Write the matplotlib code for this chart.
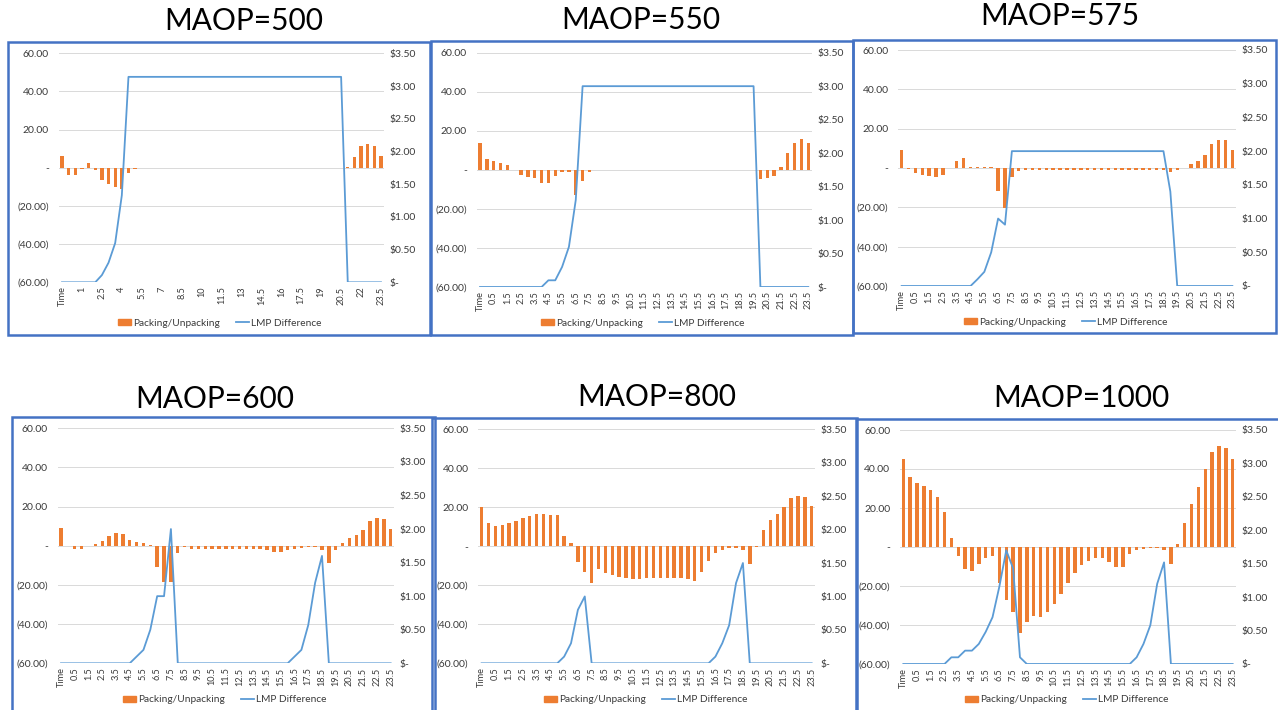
import matplotlib
matplotlib.use("Agg")
import matplotlib.pyplot as plt
from matplotlib.patches import Rectangle, Patch
from matplotlib.lines import Line2D
from matplotlib.ticker import FuncFormatter

plt.rcParams['font.family'] = ['Lato', 'DejaVu Sans']

# category labels: "Time" then every half hour
hours = ["Time"] + [f"{h / 2:g}" for h in range(48)]

# packing / unpacking bars (left axis) and LMP difference line (right axis, $)
pack_500 = [6, -3.7, -4, -0.5, 2.5, -1, -6.3, -8.4, -9.8, -11, -2.8, -0.5,
            -0.2, -0.2, -0.3, -0.3, -0.3, -0.3, -0.3, -0.3, -0.3, -0.3, -0.3, -0.3, -0.3, -0.3, -0.3, -0.3,
            0, 0, 0, 0, 0, 0, 0, 0, 0, 0, 0, 0, 0, 0, 0,
            0.3, 5.4, 11.5, 12.4, 11.2, 6]
lmp_500 = [0, 0, 0, 0, 0, 0, 0.11, 0.3, 0.6, 1.33,
           3.14, 3.14, 3.14, 3.14, 3.14, 3.14, 3.14, 3.14, 3.14, 3.14, 3.14, 3.14, 3.14, 3.14, 3.14, 3.14, 3.14,
           3.14, 3.14, 3.14, 3.14, 3.14, 3.14, 3.14, 3.14, 3.14, 3.14, 3.14, 3.14, 3.14, 3.14, 3.14, 3.14,
           0, 0, 0, 0, 0, 0]

pack_550 = [13.5, 5.5, 4.3, 3.5, 2.3, -0.3, -2.6, -3.7, -4, -6.6, -6.7, -3, -1.3, -1.1, -13, -5.7, -1.1,
            -0.3, -0.3, -0.3, -0.3, -0.3, -0.3, -0.3, -0.3, -0.3, -0.3, -0.3, -0.3,
            -0.3, -0.3, -0.3, -0.3, -0.3, -0.3, -0.3, -0.3, -0.3, -0.3, -0.3, -0.3,
            -4.7, -4, -3.3, 1.6, 8.8, 14, 16, 13.5]
lmp_550 = [0, 0, 0, 0, 0, 0, 0, 0, 0, 0, 0.1, 0.1, 0.3, 0.6, 1.3,
           3, 3, 3, 3, 3, 3, 3, 3, 3, 3, 3, 3, 3, 3, 3, 3, 3, 3, 3, 3, 3, 3, 3, 3, 3, 3,
           0, 0, 0, 0, 0, 0, 0, 0]

pack_575 = [9.2, -0.3, -2.4, -3.6, -3.9, -4.4, -3.6, 0, 3.6, 4.9, 0.7, 0.5, 0.7, 0.3, -11.5, -20.2, -4.4, -1.5,
            -0.8, -0.8, -0.8, -0.8, -0.8, -0.8, -0.8, -0.8, -0.8, -0.8,
            -0.8, -0.8, -0.8, -0.8, -0.8, -0.8, -0.8, -0.8, -0.8,
            -1, -1.2, -2, -1, 0, 1.9, 3.4, 6.4, 12.4, 14.2, 14, 9.2]
lmp_575 = [0, 0, 0, 0, 0, 0, 0, 0, 0, 0, 0, 0.1, 0.21, 0.5, 1.0, 0.91,
           2, 2, 2, 2, 2, 2, 2, 2, 2, 2, 2, 2, 2, 2, 2, 2, 2, 2, 2, 2, 2, 2, 2,
           1.4, 0, 0, 0, 0, 0, 0, 0, 0, 0]

pack_600 = [8.9, 0, -1.5, -1.5, -0.3, 1, 2.7, 4.8, 6.4, 6.2, 2.9, 1.8, 1.5, 0.5, -10.6, -18.5, -18.5, -3.6, -0.8,
            -1.5, -1.5, -1.5, -1.5, -1.5, -1.5, -1.5, -1.5, -1.5, -1.5, -1.5,
            -2, -3, -3, -2, -1.5, -1.2, -0.8, -0.5, -2, -8.8, -2, 1.5, 3.8, 5.5, 8, 12.6, 14, 13.5, 8.8]
lmp_600 = [0, 0, 0, 0, 0, 0, 0, 0, 0, 0, 0, 0.1, 0.2, 0.5, 1.0, 1.0, 2.0,
           0, 0, 0, 0, 0, 0, 0, 0, 0, 0, 0, 0, 0, 0, 0, 0, 0,
           0.1, 0.2, 0.57, 1.2, 1.6, 0, 0, 0, 0, 0, 0, 0, 0, 0, 0]

pack_800 = [20.3, 12.1, 10.4, 10.9, 11.8, 13, 14.4, 15.7, 16.6, 16.4, 16.1, 15.9, 5.3, 1.9,
            -8.2, -13.3, -18.6, -11.8, -13.5, -14.7, -15.7, -16.4, -16.8, -16.8, -16.4, -16.4,
            -16.1, -16.1, -16.4, -16.4, -16.9, -17.8, -13, -7.4, -3.4, -1.9, -1, -0.7, -2, -8.9, -0.2,
            8.4, 13.5, 16.6, 20, 25, 26, 25.1, 20.5]
lmp_800 = [0, 0, 0, 0, 0, 0, 0, 0, 0, 0, 0, 0, 0.1, 0.3, 0.8, 1.0,
           0, 0, 0, 0, 0, 0, 0, 0, 0, 0, 0, 0, 0, 0, 0, 0, 0, 0,
           0.1, 0.3, 0.57, 1.2, 1.5, 0, 0, 0, 0, 0, 0, 0, 0, 0, 0]

pack_1000 = [45.1, 35.7, 32.6, 31.3, 29, 25.8, 18.1, 4.8, -4.6, -11.3, -12.3, -8.7, -5.8, -4.4,
             -18.3, -27.4, -33.2, -43.9, -38.3, -35.4, -35.7, -33.5, -29.2, -24.1, -18.6, -13.2,
             -9.2, -7, -5.8, -5.8, -7.5, -10.1, -10.1, -3.8, -1.7, -0.9, -0.3, -0.3, -1.7, -8.5,
             1.7, 12.5, 21.9, 30.8, 40, 48.9, 51.6, 50.8, 45.1]
lmp_1000 = [0, 0, 0, 0, 0, 0, 0, 0.1, 0.1, 0.2, 0.2, 0.3, 0.48, 0.7, 1.16, 1.7, 1.43, 0.1,
            0, 0, 0, 0, 0, 0, 0, 0, 0, 0, 0, 0, 0, 0, 0, 0,
            0.1, 0.3, 0.58, 1.2, 1.52, 0, 0, 0, 0, 0, 0, 0, 0, 0, 0]

titles = ["MAOP=500", "MAOP=550", "MAOP=575", "MAOP=600", "MAOP=800", "MAOP=1000"]
packs = [pack_500, pack_550, pack_575, pack_600, pack_800, pack_1000]
lmps = [lmp_500, lmp_550, lmp_575, lmp_600, lmp_800, lmp_1000]
label_steps = [3, 2, 2, 2, 2, 2]

# layout in pixels: border box, plot area, title centre, legend centre
borders = [(8, 42, 430, 335), (431, 41, 853, 335), (853, 40, 1276, 333),
           (12, 417, 435, 716), (432, 418, 857, 716), (856, 419, 1280, 716)]
plot_areas = [(58.7, 53.3, 384.3, 282.3), (476.6, 52.7, 811.7, 287), (898.2, 50, 1235.8, 286),
              (57.6, 428.3, 394.1, 663.3), (478.2, 429.3, 815.1, 663.3), (899.9, 430, 1236.1, 664)]
title_pos = [(244, 21), (641, 20), (1060, 16), (215, 399), (657, 397), (1081, 398)]
legend_pos = [(220, 323), (643, 323), (1066, 322), (225, 700), (646, 700), (1067, 700)]

W, H = 1278, 710
ORANGE = "#ED7D31"
BLUE = "#5B9BD5"
FRAME = "#4472C4"
TXT = "#3a3a3a"


def fx(px):
    return px / W


def fy(py):
    return 1 - py / H


def left_fmt(v, pos):
    if abs(v) < 1e-9:
        return "-"
    if v < 0:
        return f"({-v:.2f})"
    return f"{v:.2f}"


def right_fmt(v, pos):
    if abs(v) < 1e-9:
        return "$-"
    return f"${v:.2f}"


fig = plt.figure(figsize=(W / 100, H / 100), dpi=100)

for i in range(6):
    x0, y0, x1, y1 = plot_areas[i]
    ax = fig.add_axes([fx(x0), fy(y1), (x1 - x0) / W, (y1 - y0) / H])
    x = list(range(len(hours)))

    # bars
    ax.bar(x, packs[i], width=0.5, color=ORANGE, zorder=2)
    ax.set_xlim(-0.5, len(hours) - 0.5)
    ax.set_ylim(-60, 60)
    ax.set_yticks(range(-60, 61, 20))
    ax.yaxis.set_major_formatter(FuncFormatter(left_fmt))
    ax.grid(axis="y", color="#D9D9D9", linewidth=0.7)
    ax.set_axisbelow(True)

    # x-axis labels
    step = label_steps[i]
    ax.set_xticks(x[::step])
    ax.set_xticklabels(hours[::step], rotation=90, fontsize=6.6, color=TXT)
    ax.tick_params(axis="x", length=0, pad=3)
    ax.tick_params(axis="y", length=0, pad=7, labelsize=7.5, labelcolor=TXT)

    # line on the $ axis
    ax2 = ax.twinx()
    ax2.plot(x, lmps[i], color=BLUE, linewidth=1.3)
    ax2.set_ylim(0, 3.5)
    ax2.set_yticks([0, 0.5, 1, 1.5, 2, 2.5, 3, 3.5])
    ax2.yaxis.set_major_formatter(FuncFormatter(right_fmt))
    ax2.tick_params(axis="y", length=0, pad=4, labelsize=7.5, labelcolor=TXT)

    for a in (ax, ax2):
        for s in a.spines.values():
            s.set_visible(False)

    # legend
    handles = [Patch(color=ORANGE), Line2D([], [], color=BLUE, linewidth=1.3)]
    lx, ly = legend_pos[i]
    fig.legend(handles, ["Packing/Unpacking", "LMP Difference"], loc="center",
               bbox_to_anchor=(fx(lx), fy(ly)), ncol=2, frameon=False, fontsize=7.3,
               handlelength=1.3, handleheight=0.55, handletextpad=0.2, columnspacing=1.6,
               labelcolor=TXT)

    # border and title
    bx0, by0, bx1, by1 = borders[i]
    fig.add_artist(Rectangle((fx(bx0), fy(by1)), (bx1 - bx0) / W, (by1 - by0) / H,
                             transform=fig.transFigure, fill=False, edgecolor=FRAME, linewidth=1.8))
    tx, ty = title_pos[i]
    fig.text(fx(tx), fy(ty), titles[i], ha="center", va="center", fontsize=21.5)

fig.savefig("out.png", dpi=100)
